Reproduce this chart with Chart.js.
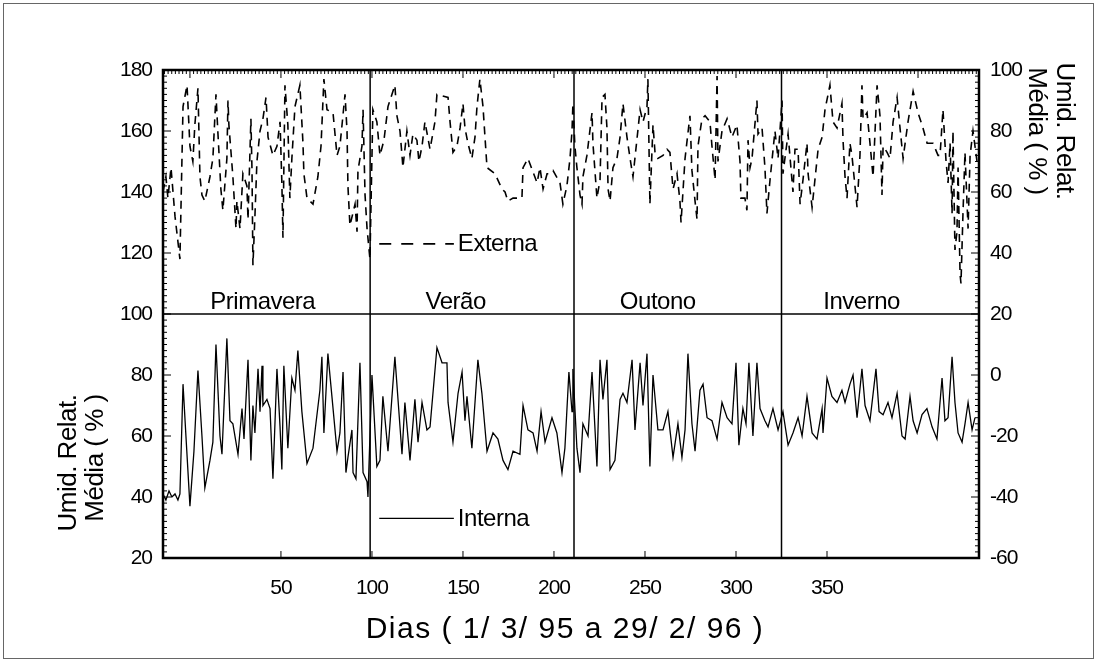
<!DOCTYPE html>
<html><head><meta charset="utf-8">
<script src="https://cdn.jsdelivr.net/npm/chart.js@4.4.0/dist/chart.umd.min.js"></script>
<style>html,body{margin:0;padding:0;background:#fff;overflow:hidden}</style>
</head><body>
<canvas id="c" width="1097" height="662" style="display:block;width:1097px;height:662px"></canvas>
<script>
// ---- axis definitions ----
const xTicks = [50, 100, 150, 200, 250, 300, 350];
const xMin = -14.8, xMax = 433.5;
const leftMin = 20, leftMax = 180;      // Interna axis
const rightMin = -60, rightMax = 100;   // Externa axis
const seasonBounds = [99, 211, 325];
const seasonNames = ['Primavera', 'Verão', 'Outono', 'Inverno'];
const seasonLabelX = [40, 146, 257, 369];
const dividerY = 100;

// ---- Interna (left axis) ----
const internaX = [
-14.8,-13.2,-11.5,-9.9,-8.2,-6.6,-5.5,-3.8,-2.2,0,
2.2,4.4,6.6,8.2,11,12.6,14.3,16.5,17.6,20.3,
22,23.6,26.4,28.6,29.7,31.9,33.5,34.6,35.7,37.4,
38.5,39.6,40.1,42.3,44,45.6,47.8,49.5,50.5,51.6,
53.8,56,57.7,59.3,61.5,64.3,67.6,71.4,72.5,73.6,
75.8,78,80.8,82.4,84.1,85.7,86.8,89,89.6,91.2,
93.4,95.1,97.3,97.8,100,102.7,104.4,106,108.8,112.6,
116.5,118.1,120.9,123.6,125.3,127.5,130.2,131.9,135.7,138.5,
141.2,141.8,144.5,147.3,149.5,151.1,152.2,154.9,158.2,160.4,
163.2,166.5,169.2,172,174.7,177.5,181.3,183,185.7,188.5,
190.7,192.9,195.1,198.9,201.6,204.4,206,208.2,209.9,210.4,
212.6,214.3,215.9,218.7,220.9,223.6,225.3,226.9,229.1,230.8,
233.5,236.3,237.9,240.1,242.9,244.5,247.3,248.9,251.1,252.7,
254.4,257.1,259.9,262.6,265.4,268.1,270.3,272,273.6,275.8,
277.5,280.2,281.9,284.1,286.8,289.6,292.3,295.1,297.8,300,
301.6,303.8,305.5,307.1,309.3,311.5,313.2,315.9,317.6,320.3,
323.1,325.8,328.6,331.3,334.1,336.3,339,341.8,344.5,347.3,
347.8,350,352.7,355.5,358.2,359.9,362.6,364.3,366.5,369.2,
370.9,373.6,376.9,378.6,380.8,383.5,385.7,388.5,391.2,392.9,
395.6,397.3,399.5,402.2,404.9,407.7,410.4,413.2,414.8,416.5,
418.7,420.3,422,424.2,425.8,427.5,429.7,431.3];
const internaY = [
41,39,42,40,41,39,41,77,60,37,
55,81.5,60,43,52,58,90,60,54,92,
65,64,54,69,59,85,52,70,61,82,
68,83,70,72,69,46,82,63,49,83,
56,79,75,88,68,51,56,75,86,61,
87,73,55,61,81,48,53,62,48,46,
84,48,45,40,80,50,52,73,55,86,
54,71,52,72,58,71,62,63,89,84,
84,71,58,74,81,65,73,56,85,74,
55,61,59,52,49,55,54,70,62,61,
55,68,58,66,61,48,56,81,68,82,
56,48,64,60,81,50,85,72,85,49,
52,72,74,71,85,62,84,70,87,50,
80,62,62,68,53,64,53,62,87,64,
55,75,77,66,65,59,71,66,64,84,
57,69,64,84,60,84,69,65,63,69,
62,68,57,61,66,60,73,61,59,69,
61,79,73,71,75,71,77,80,66,82,
70,65,82,68,67,71,66,74,60,59,
73,65,61,67,69,63,59,79,65,66,
86,71,61,58,64,71,62,66];

// ---- Externa (right axis) ----
const externaX = [
-14.8,-13.2,-12.1,-10.4,-8.2,-5.5,-3.8,-1.6,0,1.6,
2.7,4.4,5.5,6.6,8.2,11,12.6,14.3,15.4,17,
18.1,20.3,20.9,21.4,23.6,25.3,25.8,27.5,29.1,31.3,
31.9,33.5,34.1,34.6,35.7,36.8,38.5,40.1,41.8,42.9,
45.6,47.8,49.5,50.5,51.1,52.2,53.8,54.9,56,57.7,
60.4,62.1,62.6,64.3,67.6,70.3,72,73.6,75.3,78.6,
80.8,82.4,85.2,86.3,86.8,87.9,90.7,91.8,92.3,94.5,
95.1,96.2,97.3,98.9,100.5,102.7,
104.4,106.6,108.8,112.6,113.7,115.4,116.5,117,119.2,120.9,
122.5,124.7,125.8,127.5,129.1,131.9,134.6,135.7,141.8,142.9,
144.5,146.7,148.4,150,151.1,152.7,154.9,156.6,157.7,159.3,
161,162.1,163.2,167.6,171.4,173.1,174.7,177.5,182.4,183,
185.7,190.7,192.3,194,196.2,197.8,199.5,203.3,204.9,207.1,
208.8,209.9,210.4,211.5,212.6,214.3,215.4,215.9,218.1,220.9,
221.4,223.6,225.3,226.4,228,229.1,229.7,230.8,232.4,234.6,
236.3,237.9,240.1,241.8,243.4,247.3,248.9,251.1,251.6,252.7,
254.4,255.5,257.1,
259.9,262.1,263.7,265.4,267.6,269.2,269.8,272,274.7,275.8,
277.5,278.6,279.1,281.3,283,285.7,286.8,288.5,289.6,290.1,
292.3,295.1,297.8,300.5,302.2,302.7,304.9,306,306.6,307.7,
308.8,311.5,312.1,314.3,315.9,317,318.7,321.4,323.1,325.3,
325.8,328.6,331.3,332.4,334.1,335.2,336.8,339,339.6,341.8,
345.1,347.3,348.9,351.6,353.3,355.5,358.2,358.8,359.9,361,
362.6,363.7,366.5,368.1,369.2,369.8,372,373.6,375.3,377.5,
379.1,380.2,380.8,383,384.6,386.3,388.5,390.1,391.8,394.5,
397.3,400,402.7,405,408.2,411,
412.1,413.7,415.4,416.5,417.6,418.7,419.2,420.3,421.4,422,
423.1,423.6,424.7,425.8,427.5,428.6,430.2,431.3,432.4];
const externaY = [
60,65,58,68,52,38,88,95,75,70,
82,94,65,59,57,65,71,92,79,61,
54,71,90,82,65,48,57,48,66,62,
51,84,67,36,52,70,80,84,91,78,
72,75,83,63,45,95,82,58,71,88,
95,76,66,58,56,65,75,97,87,86,
72,75,92,80,62,49,56,47,67,75,
87,59,48,38,87,83,
72,77,88,95,85,80,72,68,80,72,
79,77,70,75,83,74,83,92,91,83,
73,75,81,89,81,76,71,78,88,97,
88,78,68,66,61,60,57,58,58,68,
71,63,68,61,66,66,67,63,56,62,
71,80,89,75,68,59,56,65,72,86,
76,58,64,91,92,81,61,57,68,71,
78,89,78,71,65,87,83,88,97,56,
82,73,71,
72,74,73,61,66,57,50,71,85,67,
57,51,75,84,85,83,75,64,98,70,
80,84,78,82,70,58,58,54,77,68,
71,90,79,81,68,53,64,80,71,90,
66,79,60,74,74,56,64,76,66,55,
74,78,87,95,83,81,89,77,65,58,
76,72,55,72,95,84,86,76,65,95,
85,59,75,73,71,83,91,81,71,83,
93,86,81,76,76,72,
72,87,70,63,76,53,80,41,47,68,
33,30,53,73,48,72,80,75,70];

// legend anchor (data units)
const legendX = [104, 145];
const legendExternaY = 123;   // left-axis units
const legendInternaY = 33;

const FONT = "'Liberation Sans', Arial, sans-serif";

const overlay = {
  id: 'overlay',
  beforeDraw(chart) {
    const ctx = chart.ctx;
    ctx.save();
    ctx.fillStyle = '#fff';
    ctx.fillRect(0, 0, chart.width, chart.height);
    ctx.strokeStyle = '#666';
    ctx.lineWidth = 1;
    ctx.strokeRect(3.5, 3.5, chart.width - 7, chart.height - 7);
    ctx.restore();
    ctx.letterSpacing = '-1px';
  },
  afterDatasetsDraw(chart) {
    const ctx = chart.ctx;
    const a = chart.chartArea;
    const xs = chart.scales.x, ys = chart.scales.y, ys2 = chart.scales.y2;
    ctx.save();
    ctx.strokeStyle = '#000';
    ctx.fillStyle = '#000';
    const line = (x1, y1, x2, y2) => { ctx.beginPath(); ctx.moveTo(x1, y1); ctx.lineTo(x2, y2); ctx.stroke(); };

    // season separators and divider
    ctx.lineWidth = 1.5;
    seasonBounds.forEach(b => { const x = xs.getPixelForValue(b); line(x, a.top, x, a.bottom); });
    const yd = ys.getPixelForValue(dividerY);
    line(a.left, yd, a.right, yd);

    // frame of plot
    ctx.lineWidth = 2.5;
    ctx.strokeRect(a.left, a.top, a.right - a.left, a.bottom - a.top);

    // ticks
    ctx.lineWidth = 1;
    for (let k = 0; k <= 80; k++) {
      const v = leftMin + k * 2;
      const y = ys.getPixelForValue(v);
      const len = (k % 10 === 0) ? 8 : 4;
      line(a.left, y, a.left + len, y);
    }
    for (let k = 0; k <= 80; k++) {
      const v = rightMin + k * 2;
      const y = ys2.getPixelForValue(v);
      const len = (k % 10 === 0) ? 8 : 4;
      line(a.right, y, a.right - len, y);
    }
    for (let v = -14; v <= 432; v += 2) {
      const x = xs.getPixelForValue(v);
      const len = (v % 50 === 0) ? 8 : 4;
      line(x, a.top, x, a.top + len);
    }
    xTicks.forEach(v => { const x = xs.getPixelForValue(v); line(x, a.bottom, x, a.bottom - 7); });

    // season labels
    ctx.letterSpacing = '-0.5px';
    ctx.font = '24px ' + FONT;
    ctx.textAlign = 'center';
    ctx.textBaseline = 'alphabetic';
    seasonNames.forEach((n, i) => ctx.fillText(n, xs.getPixelForValue(seasonLabelX[i]), yd - 5));

    // legend items
    const lx0 = xs.getPixelForValue(legendX[0]), lx1 = xs.getPixelForValue(legendX[1]);
    const ye = ys.getPixelForValue(legendExternaY), yi = ys.getPixelForValue(legendInternaY);
    ctx.lineWidth = 1.6;
    ctx.setLineDash([12, 10]);
    line(lx0, ye, lx1, ye);
    ctx.setLineDash([]);
    ctx.lineWidth = 1.3;
    line(lx0, yi, lx1, yi);
    ctx.textAlign = 'left';
    ctx.textBaseline = 'middle';
    ctx.fillText('Externa', lx1 + 4, ye + 1);
    ctx.fillText('Interna', lx1 + 4, yi + 1);

    // axis titles
    ctx.font = '26px ' + FONT;
    ctx.textAlign = 'center';
    ctx.textBaseline = 'middle';
    ctx.save();
    ctx.translate(a.left - 94, 463);
    ctx.rotate(-Math.PI / 2);
    ctx.fillText('Umid. Relat.', 0, 0);
    ctx.restore();
    ctx.save();
    ctx.translate(a.left - 67, 458);
    ctx.rotate(-Math.PI / 2);
    ctx.fillText('Média ( % )', 0, 0);
    ctx.restore();
    ctx.save();
    ctx.translate(a.right + 85, 131);
    ctx.rotate(Math.PI / 2);
    ctx.fillText('Umid. Relat.', 0, 0);
    ctx.restore();
    ctx.save();
    ctx.translate(a.right + 57, 131);
    ctx.rotate(Math.PI / 2);
    ctx.fillText('Média ( % )', 0, 0);
    ctx.restore();

    ctx.letterSpacing = '1.5px';
    ctx.font = '30px ' + FONT;
    ctx.fillText('Dias ( 1/ 3/ 95 a 29/ 2/ 96 )', (a.left + a.right) / 2 - 6, 630);
    ctx.restore();
    ctx.letterSpacing = '-1px';
  }
};

const tickFont = { family: FONT, size: 21 };
new Chart(document.getElementById('c'), {
  type: 'scatter',
  data: {
    datasets: [
      { label: 'Interna', data: internaX.map((x, i) => ({ x, y: internaY[i] })), yAxisID: 'y',
        showLine: true, borderColor: '#000', borderWidth: 1.3, pointRadius: 0, tension: 0 },
      { label: 'Externa', data: externaX.map((x, i) => ({ x, y: externaY[i] })), yAxisID: 'y2',
        showLine: true, borderColor: '#000', borderWidth: 1.6, borderDash: [8, 6], pointRadius: 0, tension: 0 }
    ]
  },
  options: {
    responsive: false,
    animation: false,
    devicePixelRatio: 1,
    layout: { padding: { top: 70, left: 0, right: 0, bottom: 0 } },
    plugins: { legend: { display: false }, tooltip: { enabled: false } },
    scales: {
      x: {
        type: 'linear', min: xMin, max: xMax,
        afterBuildTicks: s => { s.ticks = xTicks.map(v => ({ value: v })); },
        afterFit: s => { s.height = 104; },
        grid: { display: false, drawTicks: false }, border: { display: false },
        ticks: { padding: 18, font: tickFont, color: '#000', maxRotation: 0 }
      },
      y: {
        position: 'left', min: leftMin, max: leftMax,
        afterFit: s => { s.width = 163; },
        grid: { display: false, drawTicks: false }, border: { display: false },
        ticks: { stepSize: 20, padding: 11, font: tickFont, color: '#000' }
      },
      y2: {
        position: 'right', min: rightMin, max: rightMax,
        afterFit: s => { s.width = 118; },
        grid: { display: false, drawTicks: false }, border: { display: false },
        ticks: { stepSize: 20, padding: 11, font: tickFont, color: '#000' }
      }
    }
  },
  plugins: [overlay]
});
</script>
</body></html>
